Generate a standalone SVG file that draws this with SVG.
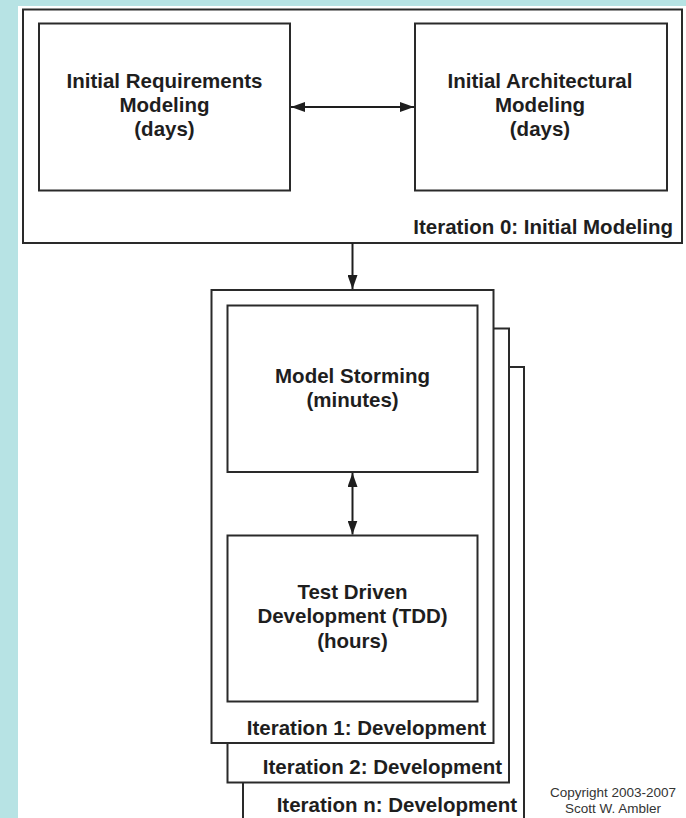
<svg xmlns="http://www.w3.org/2000/svg" width="686" height="818" viewBox="0 0 686 818">
<style>
.box{fill:#fff;stroke:#2a2a2a;stroke-width:2}
.t{font-family:"Liberation Sans",Arial,sans-serif;font-weight:bold;font-size:20.5px;fill:#1e1e1e;text-anchor:middle}
.lbl{font-family:"Liberation Sans",Arial,sans-serif;font-weight:bold;font-size:20.5px;fill:#1e1e1e;text-anchor:end}
.cp{font-family:"Liberation Sans",Arial,sans-serif;font-size:13.5px;fill:#333;text-anchor:middle}
.ln{stroke:#1e1e1e;stroke-width:2;fill:none}
</style>
<defs>
<marker id="ah" viewBox="0 0 14 10" refX="14" refY="5" markerWidth="14" markerHeight="10" markerUnits="userSpaceOnUse" orient="auto-start-reverse">
<path d="M0,0 L14,5 L0,10 Z" fill="#1e1e1e"/>
</marker>
</defs>
<rect x="0" y="0" width="686" height="818" fill="#b7e3e4"/>
<rect x="18" y="6" width="668" height="812" fill="#fff"/>
<g id="iteration0">
<rect class="box" x="23" y="9.5" width="659" height="233.5"/>
<text class="lbl" x="673" y="234">Iteration 0: Initial Modeling</text>
</g>
<g id="req">
<rect class="box" x="39" y="23.5" width="251" height="167"/>
<text class="t" x="164.5" y="88">Initial Requirements</text>
<text class="t" x="164.5" y="112">Modeling</text>
<text class="t" x="164.5" y="136">(days)</text>
</g>
<g id="arch">
<rect class="box" x="415" y="23.5" width="252" height="167"/>
<text class="t" x="540" y="88">Initial Architectural</text>
<text class="t" x="540" y="112">Modeling</text>
<text class="t" x="540" y="136">(days)</text>
</g>
<g id="iterationn">
<rect class="box" x="243" y="367" width="281" height="460"/>
<text class="lbl" x="517" y="812">Iteration n: Development</text>
</g>
<g id="iteration2">
<rect class="box" x="227.5" y="328.5" width="281.5" height="454"/>
<text class="lbl" x="502" y="774">Iteration 2: Development</text>
</g>
<g id="iteration1">
<rect class="box" x="211.5" y="290" width="282" height="453"/>
<text class="lbl" x="486" y="735">Iteration 1: Development</text>
</g>
<g id="storming">
<rect class="box" x="227.5" y="305.5" width="250" height="166.5"/>
<text class="t" x="352.5" y="383">Model Storming</text>
<text class="t" x="352.5" y="407">(minutes)</text>
</g>
<g id="tdd">
<rect class="box" x="227.5" y="535.5" width="250" height="166"/>
<text class="t" x="352.5" y="598.5">Test Driven</text>
<text class="t" x="352.5" y="623">Development (TDD)</text>
<text class="t" x="352.5" y="647.5">(hours)</text>
</g>
<g id="connectors">
<line class="ln" x1="291" y1="107" x2="414" y2="107" marker-start="url(#ah)" marker-end="url(#ah)"/>
<line class="ln" x1="352.5" y1="243" x2="352.5" y2="289" marker-end="url(#ah)"/>
<line class="ln" x1="352.5" y1="473" x2="352.5" y2="534.5" marker-start="url(#ah)" marker-end="url(#ah)"/>
</g>
<g id="copyright">
<text class="cp" x="613" y="797">Copyright 2003-2007</text>
<text class="cp" x="613" y="813">Scott W. Ambler</text>
</g>
</svg>
